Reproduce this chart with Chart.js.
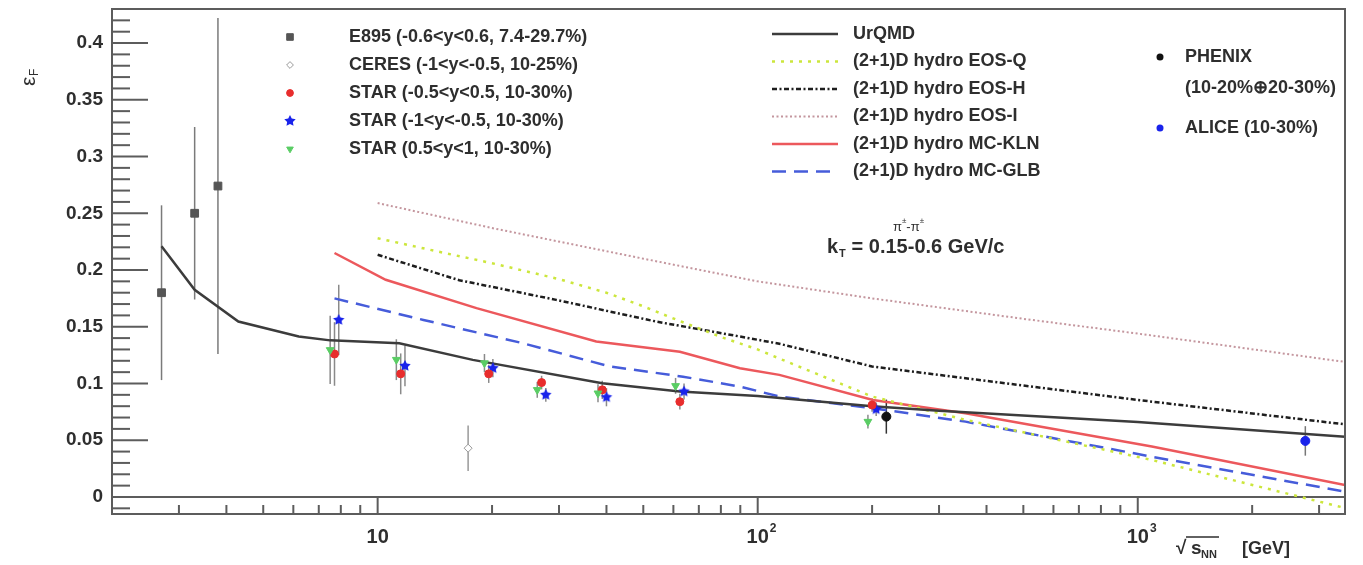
<!DOCTYPE html>
<html>
<head>
<title>Eccentricity vs beam energy</title>
<script src="https://cdn.jsdelivr.net/npm/chart.js"></script>
<style>
  body { margin: 0; background: #fff; }
  .chart-box { width: 1363px; height: 565px; position: relative; }
</style>
</head>
<body>
<div class="chart-box"><canvas id="eps-chart"></canvas></div>
<script>
// ---- data (sqrt(s_NN) in GeV, eps_F) ----
const e895X = [2.7, 3.3, 3.8];
const e895Y = [0.180, 0.250, 0.274];
const e895Err = [0.077, 0.076, 0.148];

const ceresX = [17.3];
const ceresY = [0.043];
const ceresErr = [0.020];

const starMidX = [7.7, 11.5, 19.6, 27, 39, 62.4, 200];
const starMidY = [0.126, 0.1085, 0.1085, 0.1008, 0.0944, 0.084, 0.081];
const starMidErr = [0.028, 0.018, 0.008, 0.006, 0.008, 0.007, 0.006];

const starBackX = [7.9, 11.8, 20.1, 27.7, 40, 64, 205];
const starBackY = [0.156, 0.1155, 0.1135, 0.090, 0.0879, 0.0929, 0.0773];
const starBackErr = [0.031, 0.018, 0.008, 0.006, 0.008, 0.007, 0.006];

const starFwdX = [7.5, 11.2, 19.1, 26.3, 38, 60.8, 195];
const starFwdY = [0.1296, 0.121, 0.118, 0.0944, 0.0914, 0.0979, 0.0664];
const starFwdErr = [0.030, 0.018, 0.008, 0.007, 0.008, 0.007, 0.006];

const phenixX = [218];
const phenixY = [0.0708];
const phenixErr = [0.015];

const aliceX = [2760];
const aliceY = [0.0494];
const aliceErr = [0.013];

const urqmdX = [2.7, 3.3, 4.3, 6.2, 7.5, 11.4, 17.8, 39, 62.4, 100, 200, 300, 1000, 3510];
const urqmdY = [0.221, 0.1825, 0.1546, 0.1414, 0.138, 0.1355, 0.1208, 0.1003, 0.093, 0.089, 0.080, 0.076, 0.066, 0.053];

const eosQX = [10, 15, 20, 30, 40, 50, 62.4, 80, 100, 114, 200, 352, 1089, 3510];
const eosQY = [0.228, 0.215, 0.206, 0.192, 0.180, 0.168, 0.155, 0.141, 0.130, 0.122, 0.0885, 0.068, 0.0326, -0.0097];

const eosHX = [10, 16.4, 29.5, 54, 89.8, 114, 200, 1000, 3510];
const eosHY = [0.2134, 0.191, 0.1737, 0.1546, 0.1414, 0.135, 0.115, 0.0855, 0.064];

const eosIX = [10, 20, 50, 100, 200, 500, 1000, 3510];
const eosIY = [0.259, 0.237, 0.210, 0.190, 0.175, 0.157, 0.144, 0.119];

const klnX = [7.7, 10.5, 18.2, 37.6, 62.4, 89.8, 114, 201, 352, 1089, 3510];
const klnY = [0.215, 0.1914, 0.1664, 0.137, 0.128, 0.1135, 0.1076, 0.0855, 0.0738, 0.0444, 0.0106];

const glbX = [7.7, 13.2, 24.1, 40.8, 63.6, 89.8, 114, 201, 352, 1089, 3510];
const glbY = [0.175, 0.156, 0.1355, 0.115, 0.106, 0.0973, 0.0885, 0.0782, 0.0664, 0.0355, 0.0047];

const xMajorTicks = [10, 100, 1000];
const xTickExp = ['', '2', '3'];

const fontFamily = '"Liberation Sans", Arial, Helvetica, sans-serif';
const frameColor = '#5c5c5c';
const textColor = '#2e2e2e';

const red = 'rgb(232,45,45)';
const blue = 'rgb(25,35,235)';
const green = 'rgb(90,205,100)';

function pts(xs, ys) {
    return xs.map((x, i) => ({x: x, y: ys[i]}));
}

// filled star marker for the blue STAR points
function makeStar(color, r) {
    const c = document.createElement('canvas');
    c.width = c.height = Math.ceil(r * 2 + 2);
    const g = c.getContext('2d');
    const cx = c.width / 2, cy = c.height / 2;
    g.beginPath();
    for (let i = 0; i < 10; i++) {
        const rr = i % 2 === 0 ? r : r * 0.5;
        const a = -Math.PI / 2 + i * Math.PI / 5;
        g.lineTo(cx + rr * Math.cos(a), cy + rr * Math.sin(a));
    }
    g.closePath();
    g.fillStyle = color;
    g.fill();
    return c;
}
const blueStar = makeStar(blue, 6);

function markerSet(label, xs, ys, errs, style) {
    return Object.assign({
        label: label,
        data: pts(xs, ys),
        errors: errs,
        showLine: false,
        order: 0,
        pointBorderWidth: 1
    }, style);
}

function curveSet(label, xs, ys, color, width, dash) {
    return {
        label: label,
        data: pts(xs, ys),
        showLine: true,
        borderColor: color,
        borderWidth: width,
        borderDash: dash,
        pointRadius: 0,
        tension: 0,
        order: 1
    };
}

const datasets = [
    curveSet('UrQMD', urqmdX, urqmdY, '#3c3c3c', 2.5, []),
    curveSet('(2+1)D hydro EOS-Q', eosQX, eosQY, 'rgb(204,230,60)', 2.5, [3, 6]),
    curveSet('(2+1)D hydro EOS-H', eosHX, eosHY, '#1e1e1e', 2.5, [5, 2.5, 2, 2.5]),
    curveSet('(2+1)D hydro EOS-I', eosIX, eosIY, 'rgb(196,150,158)', 2, [2, 2.5]),
    curveSet('(2+1)D hydro MC-KLN', klnX, klnY, 'rgb(236,88,92)', 2.5, []),
    curveSet('(2+1)D hydro MC-GLB', glbX, glbY, 'rgb(70,92,218)', 2.5, [14, 8]),
    markerSet('E895 (-0.6<y<0.6, 7.4-29.7%)', e895X, e895Y, e895Err,
        {pointStyle: 'rect', pointRadius: 5.5, backgroundColor: '#555', borderColor: '#555', errColor: '#7a7a7a'}),
    markerSet('CERES (-1<y<-0.5, 10-25%)', ceresX, ceresY, ceresErr,
        {pointStyle: 'rectRot', pointRadius: 4, backgroundColor: '#fff', borderColor: '#999', errColor: '#999'}),
    markerSet('STAR (0.5<y<1, 10-30%)', starFwdX, starFwdY, starFwdErr,
        {pointStyle: 'triangle', rotation: 180, pointRadius: 4.5, backgroundColor: green, borderColor: green, errColor: '#8a8a8a'}),
    markerSet('STAR (-0.5<y<0.5, 10-30%)', starMidX, starMidY, starMidErr,
        {pointStyle: 'circle', pointRadius: 4, backgroundColor: red, borderColor: red, errColor: '#8a8a8a'}),
    markerSet('STAR (-1<y<-0.5, 10-30%)', starBackX, starBackY, starBackErr,
        {pointStyle: blueStar, pointRadius: 6, backgroundColor: blue, borderColor: blue, errColor: '#8a8a8a'}),
    markerSet('PHENIX', phenixX, phenixY, phenixErr,
        {pointStyle: 'circle', pointRadius: 4.5, backgroundColor: '#111', borderColor: '#111', errColor: '#333'}),
    markerSet('ALICE (10-30%)', aliceX, aliceY, aliceErr,
        {pointStyle: 'circle', pointRadius: 4.5, backgroundColor: blue, borderColor: blue, errColor: '#777'})
];

function font(size, bold) {
    return (bold ? 'bold ' : '') + size + 'px ' + fontFamily;
}

// ROOT-like frame, ticks, labels, legends and captions
const rootStyle = {
    id: 'rootStyle',
    beforeDatasetsDraw(chart) {
        const {ctx, chartArea: a, scales: {x, y}} = chart;
        ctx.save();
        // zero line
        const y0 = y.getPixelForValue(0);
        ctx.strokeStyle = frameColor;
        ctx.lineWidth = 2;
        ctx.beginPath();
        ctx.moveTo(a.left, y0);
        ctx.lineTo(a.right, y0);
        ctx.stroke();
        // error bars
        chart.data.datasets.forEach(ds => {
            if (!ds.errors) return;
            ctx.strokeStyle = ds.errColor;
            ctx.lineWidth = 1.5;
            ds.data.forEach((p, i) => {
                const px = x.getPixelForValue(p.x);
                ctx.beginPath();
                ctx.moveTo(px, y.getPixelForValue(p.y + ds.errors[i]));
                ctx.lineTo(px, y.getPixelForValue(p.y - ds.errors[i]));
                ctx.stroke();
            });
        });
        ctx.restore();
    },
    afterDatasetsDraw(chart) {
        const {ctx, chartArea: a, scales: {x, y}} = chart;
        ctx.save();
        ctx.strokeStyle = frameColor;
        ctx.lineWidth = 2;
        ctx.strokeRect(a.left, a.top, a.right - a.left, a.bottom - a.top);

        // y ticks inside the frame
        ctx.fillStyle = textColor;
        ctx.font = font(19, true);
        ctx.textAlign = 'right';
        ctx.textBaseline = 'middle';
        for (let k = -1; k <= 43; k++) {
            const v = k / 100;
            const py = y.getPixelForValue(v);
            const major = k % 5 === 0;
            ctx.beginPath();
            ctx.moveTo(a.left, py);
            ctx.lineTo(a.left + (major ? 36 : 18), py);
            ctx.stroke();
            if (major && k >= 0 && k <= 40) {
                ctx.fillText(String(parseFloat(v.toFixed(2))), a.left - 9, py);
            }
        }

        // x ticks on the bottom edge
        for (let d = 1; d <= 1000; d *= 10) {
            for (let m = 1; m <= 9; m++) {
                const v = m * d;
                if (v <= x.min || v >= x.max) continue;
                const px = x.getPixelForValue(v);
                ctx.beginPath();
                ctx.moveTo(px, a.bottom);
                ctx.lineTo(px, a.bottom - (m === 1 ? 16 : 9));
                ctx.stroke();
            }
        }
        xMajorTicks.forEach((v, i) => {
            const px = x.getPixelForValue(v);
            ctx.font = font(20, true);
            ctx.textAlign = 'center';
            ctx.fillText('10', px, a.bottom + 23);
            if (xTickExp[i]) {
                const w = ctx.measureText('10').width;
                ctx.font = font(12, true);
                ctx.textAlign = 'left';
                ctx.fillText(xTickExp[i], px + w / 2 + 1, a.bottom + 15);
            }
        });
        ctx.restore();
    },
    afterDraw(chart) {
        const {ctx} = chart;
        const ds = chart.data.datasets;
        ctx.save();
        ctx.fillStyle = textColor;
        ctx.textBaseline = 'middle';
        ctx.textAlign = 'left';

        // y title
        ctx.save();
        ctx.translate(29, 78);
        ctx.rotate(-Math.PI / 2);
        ctx.font = font(21, false);
        ctx.fillText('\u03b5', -8, 0);
        ctx.font = font(12, false);
        ctx.fillText('F', 2, 6);
        ctx.restore();

        // x title
        ctx.font = font(19, true);
        ctx.fillText('\u221a', 1176, 549);
        ctx.fillText('s', 1191, 549);
        ctx.font = font(11, true);
        ctx.fillText('NN', 1201, 555);
        ctx.strokeStyle = textColor;
        ctx.lineWidth = 1.5;
        ctx.beginPath();
        ctx.moveTo(1186, 537);
        ctx.lineTo(1219, 537);
        ctx.stroke();
        ctx.font = font(18, true);
        ctx.fillText('[GeV]', 1242, 549);

        // marker legend (left)
        const markerRows = [6, 7, 9, 10, 8];
        markerRows.forEach((idx, r) => {
            const d = ds[idx];
            const ry = 37 + r * 28;
            ctx.fillStyle = d.backgroundColor;
            ctx.strokeStyle = d.borderColor;
            ctx.lineWidth = 1;
            Chart.helpers.drawPoint(ctx, {pointStyle: d.pointStyle, radius: d.pointRadius * 0.85, rotation: d.rotation || 0, borderWidth: 1}, 290, ry);
            ctx.fillStyle = textColor;
            ctx.font = font(18, true);
            ctx.fillText(d.label, 349, ry);
        });

        // line legend (middle)
        for (let r = 0; r < 6; r++) {
            const d = ds[r];
            const ry = 34 + r * 27.5;
            ctx.strokeStyle = d.borderColor;
            ctx.lineWidth = d.borderWidth;
            ctx.setLineDash(d.borderDash);
            ctx.beginPath();
            ctx.moveTo(772, ry);
            ctx.lineTo(838, ry);
            ctx.stroke();
            ctx.setLineDash([]);
            ctx.fillStyle = textColor;
            ctx.font = font(18, true);
            ctx.fillText(d.label, 853, ry);
        }

        // right legend
        [[11, 57], [12, 128]].forEach(([idx, ry]) => {
            const d = ds[idx];
            ctx.fillStyle = d.backgroundColor;
            ctx.beginPath();
            ctx.arc(1160, ry, 3.5, 0, Math.PI * 2);
            ctx.fill();
            ctx.fillStyle = textColor;
            ctx.font = font(18, true);
            ctx.fillText(d.label, 1185, ry);
        });
        ctx.fillText('(10-20%\u229520-30%)', 1185, 88);

        // pair / kT caption
        ctx.textAlign = 'left';
        let cx = 893;
        ['\u03c0', '\u00b1', '-\u03c0', '\u00b1'].forEach((s, i) => {
            const sup = i % 2 === 1;
            ctx.font = font(sup ? 8 : 13, false);
            ctx.fillText(s, cx, sup ? 221 : 227);
            cx += ctx.measureText(s).width;
        });
        ctx.font = font(20, true);
        ctx.fillText('k', 827, 247);
        ctx.font = font(11, true);
        ctx.fillText('T', 839, 254);
        ctx.font = font(20, true);
        ctx.fillText(' = 0.15-0.6 GeV/c', 846, 247);
        ctx.restore();
    }
};

new Chart(document.getElementById('eps-chart'), {
    type: 'scatter',
    data: {datasets: datasets},
    options: {
        responsive: true,
        maintainAspectRatio: false,
        animation: false,
        layout: {padding: {left: 112, top: 9, right: 18, bottom: 51}},
        plugins: {legend: {display: false}, tooltip: {enabled: false}},
        scales: {
            x: {type: 'logarithmic', min: 2, max: 3510, display: false},
            y: {type: 'linear', min: -0.015, max: 0.43, display: false}
        }
    },
    plugins: [rootStyle]
});
</script>
</body>
</html>
